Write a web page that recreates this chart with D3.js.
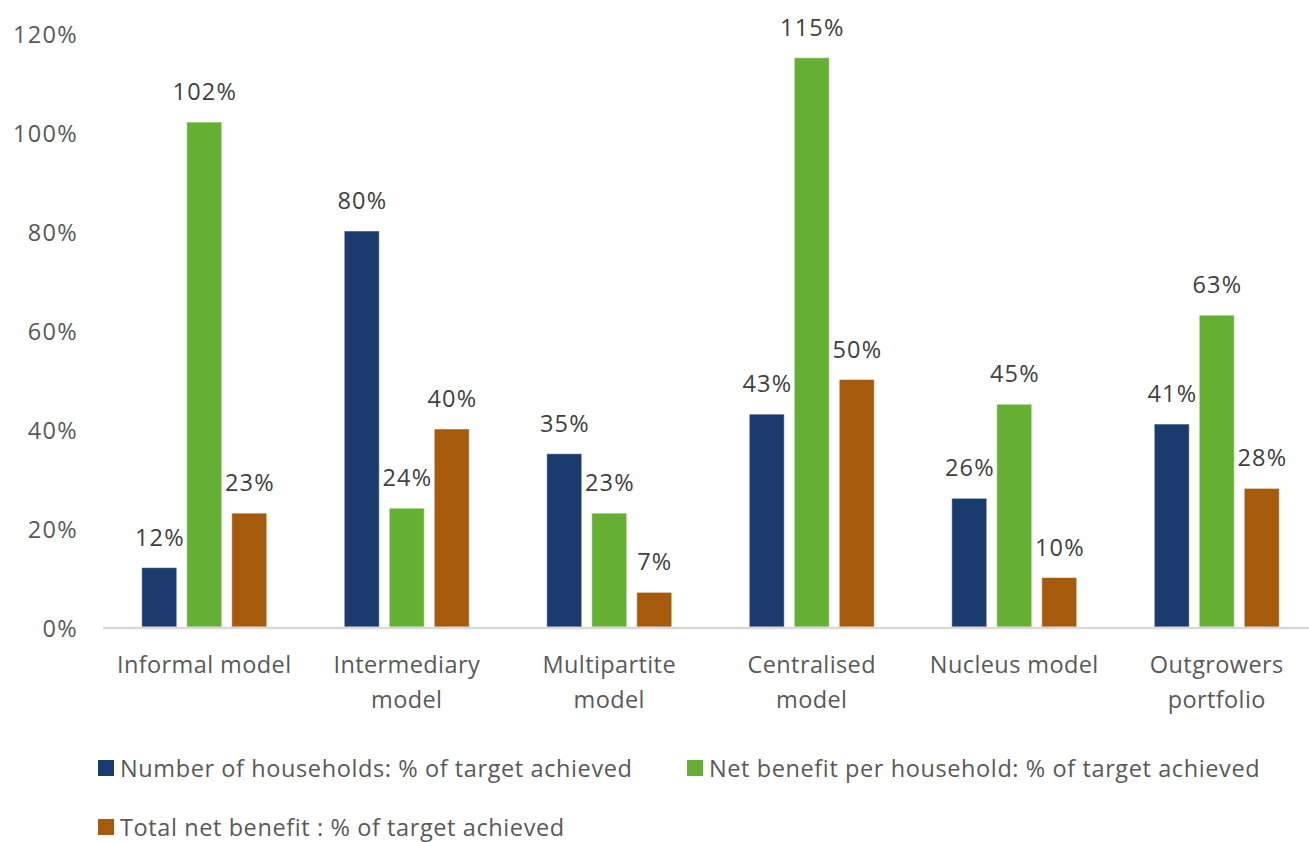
<!DOCTYPE html>
<html>
<head>
<meta charset="utf-8">
<script src="https://cdn.jsdelivr.net/npm/d3@7/dist/d3.min.js"></script>
<style>
  html, body { margin: 0; padding: 0; background: #fff; }
  svg { display: block; font-family: "Open Sans", "Noto Sans", sans-serif; }
</style>
</head>
<body>
<svg id="chart" width="1309" height="842"></svg>
<script>
// Outgrower business models and the share of each target achieved
const categories = [
  ["Informal model"],
  ["Intermediary", "model"],
  ["Multipartite", "model"],
  ["Centralised", "model"],
  ["Nucleus model"],
  ["Outgrowers", "portfolio"]
];
const seriesNames = [
  "Number of households: % of target achieved",
  "Net benefit per household: % of target achieved",
  "Total net benefit : % of target achieved"
];
const households = [12, 80, 35, 43, 26, 41];
const benefitPerHousehold = [102, 24, 23, 115, 45, 63];
const totalBenefit = [23, 40, 7, 50, 10, 28];
const yTicks = [0, 20, 40, 60, 80, 100, 120];
const colors = ["#1b3b6f", "#65b032", "#a65b0c"];

const series = [households, benefitPerHousehold, totalBenefit];

const svg = d3.select("#chart");

const x = d3.scaleBand()
  .domain(d3.range(categories.length))
  .range([103, 1318])
  .paddingInner(0)
  .paddingOuter(0);

const y = d3.scaleLinear().domain([0, 120]).range([627, 33]);

const barW = 35, barGap = 10;
const groupW = 3 * barW + 2 * barGap;

// Y axis labels (no axis line)
const yAxis = d3.axisLeft(y).tickValues(yTicks).tickFormat(d => d + "%").tickSize(0).tickPadding(0);
const yg = svg.append("g").attr("transform", "translate(78,0)").call(yAxis);
yg.select(".domain").remove();
yg.selectAll("text")
  .attr("fill", "#595959")
  .attr("dy", "0.42em")
  .style("font-size", "23.5px")
  .style("letter-spacing", "1.3px")
  .style("font-family", "'Open Sans', sans-serif");

// Bars
series.forEach((vals, si) => {
  svg.append("g").selectAll("rect")
    .data(vals)
    .join("rect")
    .attr("x", (d, i) => x(i) + x.bandwidth() / 2 - groupW / 2 + si * (barW + barGap))
    .attr("y", d => y(d))
    .attr("width", barW)
    .attr("height", d => y(0) - y(d))
    .attr("fill", colors[si])
    .attr("stroke", "#ffffff")
    .attr("stroke-opacity", 0.5)
    .attr("stroke-width", 1);

  svg.append("g").selectAll("text")
    .data(vals)
    .join("text")
    .attr("x", (d, i) => x(i) + x.bandwidth() / 2 - groupW / 2 + si * (barW + barGap) + barW / 2 + 0.6)
    .attr("y", d => y(d) - 22)
    .attr("text-anchor", "middle")
    .attr("fill", "#404040")
    .style("font-size", "23.5px")
    .style("letter-spacing", "1.2px")
    .text(d => d + "%");
});

// Baseline
svg.append("line")
  .attr("x1", 103).attr("x2", 1318)
  .attr("y1", y(0) + 1).attr("y2", y(0) + 1)
  .attr("stroke", "#d9d9d9").attr("stroke-width", 2.5);

// Category labels
svg.append("g").selectAll("text")
  .data(categories)
  .join("text")
  .attr("x", (d, i) => x(i) + x.bandwidth() / 2)
  .attr("y", 673)
  .attr("text-anchor", "middle")
  .attr("fill", "#595959")
  .style("font-size", "23.5px")
  .style("letter-spacing", "0.4px")
  .each(function (lines) {
    d3.select(this).selectAll("tspan")
      .data(lines)
      .join("tspan")
      .attr("x", d3.select(this).attr("x"))
      .attr("dy", (l, j) => j === 0 ? 0 : 35)
      .text(l => l);
  });

// Legend
const legendItems = [
  { name: seriesNames[0], color: colors[0], x: 98, y: 769 },
  { name: seriesNames[1], color: colors[1], x: 687, y: 769 },
  { name: seriesNames[2], color: colors[2], x: 98, y: 828 }
];
const lg = svg.append("g").selectAll("g").data(legendItems).join("g")
  .attr("transform", d => `translate(${d.x},${d.y})`);
lg.append("rect").attr("x", 0).attr("y", -9).attr("width", 16).attr("height", 16).attr("fill", d => d.color);
lg.append("text").attr("x", 22).attr("y", 8)
  .attr("fill", "#595959")
  .style("font-size", "23.5px")
  .style("letter-spacing", "0.6px")
  .text(d => d.name);
</script>
</body>
</html>
